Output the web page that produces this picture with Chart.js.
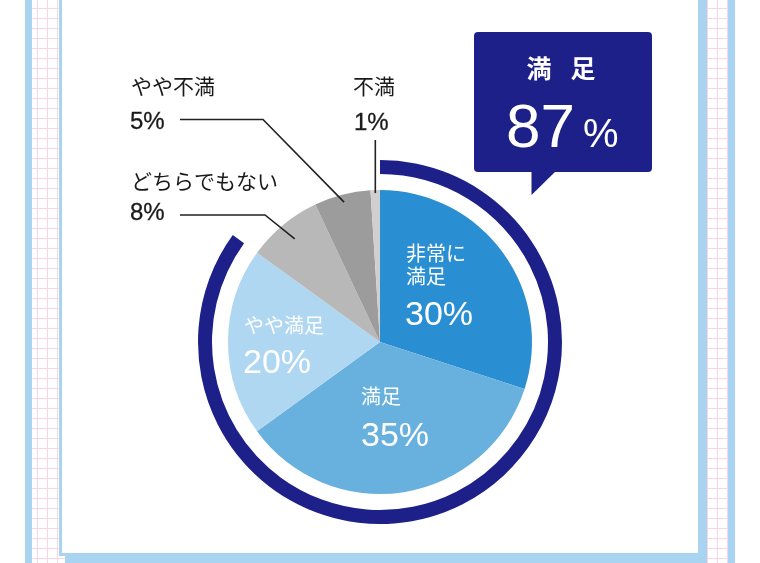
<!DOCTYPE html>
<html lang="ja">
<head>
<meta charset="utf-8">
<script src="https://cdn.jsdelivr.net/npm/chart.js@4/dist/chart.umd.min.js"></script>
<style>
  html, body { margin: 0; padding: 0; }
  body { width: 760px; height: 563px; position: relative; overflow: hidden; background: #fff; }
  .frame {
    position: absolute; left: 25px; top: 0; width: 710px; height: 563px;
    box-sizing: border-box;
    border-left: 7px solid #a8d4f2; border-right: 7px solid #a8d4f2;
    background-color: #fff;
    background-image:
      linear-gradient(to right, #f7d5e2 1px, transparent 1px),
      linear-gradient(to bottom, #f7d5e2 1px, transparent 1px);
    background-size: 10px 10px;
    background-position: 5px 8px;
  }
  .card {
    position: absolute; left: 59px; top: -10px; width: 642px; height: 566px;
    box-sizing: border-box;
    border: 3px solid #a8d4f2; background: #fff;
    box-shadow: 6px 8px 0 #a8d4f2;
  }
  #pie { position: absolute; left: 0; top: 0; }
</style>
</head>
<body>
<div class="frame"></div>
<div class="card"></div>
<canvas id="pie" width="760" height="563"></canvas>
<script>
// Data
const categories = ['非常に満足', '満足', 'やや満足', 'どちらでもない', 'やや不満', '不満'];
const sliceValues = [30, 35, 20, 8, 6, 1];   // slice sizes as drawn
const sliceText = ['30%', '35%', '20%', '8%', '5%', '1%'];  // printed (rounded) labels
const sliceColors = ['#2a8fd2', '#68b0de', '#afd7f2', '#b8b8b8', '#9c9c9c', '#cfcfcf'];
const satisfiedShare = [85, 15];            // outer ring: satisfied vs rest
const calloutTitle = ['満', '足'];
const calloutValue = '87';

const NAVY = '#1d2088';
const LATIN = '"Liberation Sans", Arial, "Noto Sans CJK JP", sans-serif';

// labels & callout drawn on top of the chart
const annotations = {
    id: 'annotations',
    afterDraw(chart) {
        const ctx = chart.ctx;
        const arcs = chart.getDatasetMeta(2).data;

        const pointIn = (i, f) => {
            const a = arcs[i];
            const mid = (a.startAngle + a.endAngle) / 2;
            return { x: a.x + Math.cos(mid) * a.outerRadius * f, y: a.y + Math.sin(mid) * a.outerRadius * f };
        };
        // slightly heavier text, like the original
        const heavy = (txt, x, y, w) => {
            ctx.lineWidth = w;
            ctx.strokeStyle = ctx.fillStyle;
            ctx.strokeText(txt, x, y);
            ctx.fillText(txt, x, y);
        };

        ctx.save();
        ctx.textBaseline = 'middle';
        ctx.textAlign = 'left';

        // text inside slices
        ctx.fillStyle = '#fff';
        ctx.font = '20px ' + LATIN;
        ctx.fillText('非常に', 406, 255);
        ctx.fillText('満足', 406, 278.5);
        ctx.fillText('満足', 361, 398);
        ctx.fillText('やや満足', 244, 327.5);
        ctx.font = '34px ' + LATIN;
        ctx.fillText(sliceText[0], 405, 316);
        ctx.fillText(sliceText[1], 361, 436.5);
        ctx.fillText(sliceText[2], 243, 363.5);

        // outside labels
        ctx.fillStyle = '#1a1a1a';
        ctx.font = '21px ' + LATIN;
        ctx.fillText('やや不満', 131, 88.5);
        ctx.fillText('どちらでもない', 131, 183.5);
        ctx.fillText('不満', 353, 88.5);
        ctx.font = '24px ' + LATIN;
        heavy(sliceText[4], 130, 122.5, 0.3);
        heavy(sliceText[3], 130, 213, 0.3);
        heavy(sliceText[5], 354, 123, 0.3);

        // leader lines
        ctx.strokeStyle = '#222';
        ctx.lineWidth = 1.6;
        let p = pointIn(4, 0.95);
        ctx.beginPath();
        ctx.moveTo(180, 119.5); ctx.lineTo(263, 119.5); ctx.lineTo(p.x, p.y);
        ctx.stroke();
        p = pointIn(3, 0.88);
        ctx.beginPath();
        ctx.moveTo(180, 215); ctx.lineTo(265, 215); ctx.lineTo(p.x, p.y);
        ctx.stroke();
        p = pointIn(5, 0.98);
        ctx.beginPath();
        ctx.moveTo(p.x, 140); ctx.lineTo(p.x, p.y);
        ctx.stroke();

        // callout box
        ctx.fillStyle = NAVY;
        ctx.beginPath();
        ctx.roundRect(474, 32, 178, 140, 4);
        ctx.fill();
        ctx.beginPath();
        ctx.moveTo(531.5, 170); ctx.lineTo(557, 170); ctx.lineTo(531.5, 195);
        ctx.closePath();
        ctx.fill();

        ctx.fillStyle = '#fff';
        ctx.textAlign = 'center';
        ctx.font = 'bold 25px "Noto Sans CJK JP", sans-serif';
        ctx.fillText(calloutTitle[0], 539, 68.5);
        ctx.fillText(calloutTitle[1], 583, 68.5);
        ctx.textAlign = 'left';
        ctx.textBaseline = 'alphabetic';
        ctx.font = '62px ' + LATIN;
        ctx.fillText(calloutValue, 506, 146.5);
        ctx.font = '40px ' + LATIN;
        ctx.fillText('%', 583, 146.5);
        ctx.restore();
    }
};

new Chart(document.getElementById('pie'), {
    type: 'doughnut',
    data: {
        labels: categories,
        datasets: [
            { data: satisfiedShare, backgroundColor: [NAVY, 'rgba(0,0,0,0)'], weight: 14 },
            { data: [1], backgroundColor: ['rgba(0,0,0,0)'], weight: 16 },
            { data: sliceValues, backgroundColor: sliceColors, weight: 152 }
        ]
    },
    options: {
        responsive: false,
        animation: false,
        events: [],
        cutout: 0,
        layout: { padding: { left: 198, right: 198, top: 160, bottom: 39 } },
        elements: { arc: { borderWidth: 0, hoverBorderWidth: 0, hoverOffset: 0 } },
        plugins: { legend: { display: false }, tooltip: { enabled: false } }
    },
    plugins: [annotations]
});
</script>
</body>
</html>
